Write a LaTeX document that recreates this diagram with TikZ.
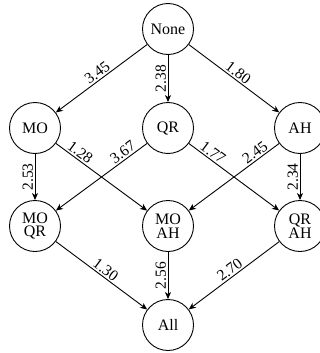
\documentclass[tikz,border=0pt]{standalone}
\usepackage{fontspec}
\setmainfont{Liberation Serif}
\usetikzlibrary{arrows.meta}
\begin{document}
\begin{tikzpicture}[x=1pt,y=-1pt,
  state/.style={circle,draw,line width=0.9pt,minimum size=51pt,inner sep=0pt,
    align=center,font=\fontsize{16}{13.5}\selectfont},
  link/.style={line width=0.9pt,-{Stealth[length=7pt,width=6pt,inset=2pt]}},
  wt/.style={sloped,above,inner sep=1.5pt,font=\fontsize{15.5}{16}\selectfont},
  vwt/.style={rotate=90,anchor=south,inner sep=1.5pt,font=\fontsize{15.5}{16}\selectfont}]
\useasboundingbox (0,0) rectangle (320,353);
\node[state] (none) at (168,29) {None};
\node[state] (mo) at (35,128) {MO};
\node[state] (qr) at (168,128) {QR};
\node[state] (ah) at (300,128) {AH};
\node[state] (moqr) at (35,226) {MO\\QR};
\node[state] (moah) at (168,226) {MO\\AH};
\node[state] (qrah) at (300,226) {QR\\AH};
\node[state] (all) at (168,325) {All};
\draw[link] (none) -- node[wt] {3.45} (mo);
\draw[link] (none) -- node[vwt] {2.38} (qr);
\draw[link] (none) -- node[wt] {1.80} (ah);
\draw[link] (mo) -- node[vwt] {2.53} (moqr);
\draw[link] (mo) -- node[wt,pos=0.22] {1.28} (moah);
\draw[link] (qr) -- node[wt,pos=0.22] {3.67} (moqr);
\draw[link] (qr) -- node[wt,pos=0.22] {1.77} (qrah);
\draw[link] (ah) -- node[wt,pos=0.22] {2.45} (moah);
\draw[link] (ah) -- node[vwt] {2.34} (qrah);
\draw[link] (moqr) -- node[wt] {1.30} (all);
\draw[link] (moah) -- node[vwt] {2.56} (all);
\draw[link] (qrah) -- node[wt] {2.70} (all);
\end{tikzpicture}
\end{document}
